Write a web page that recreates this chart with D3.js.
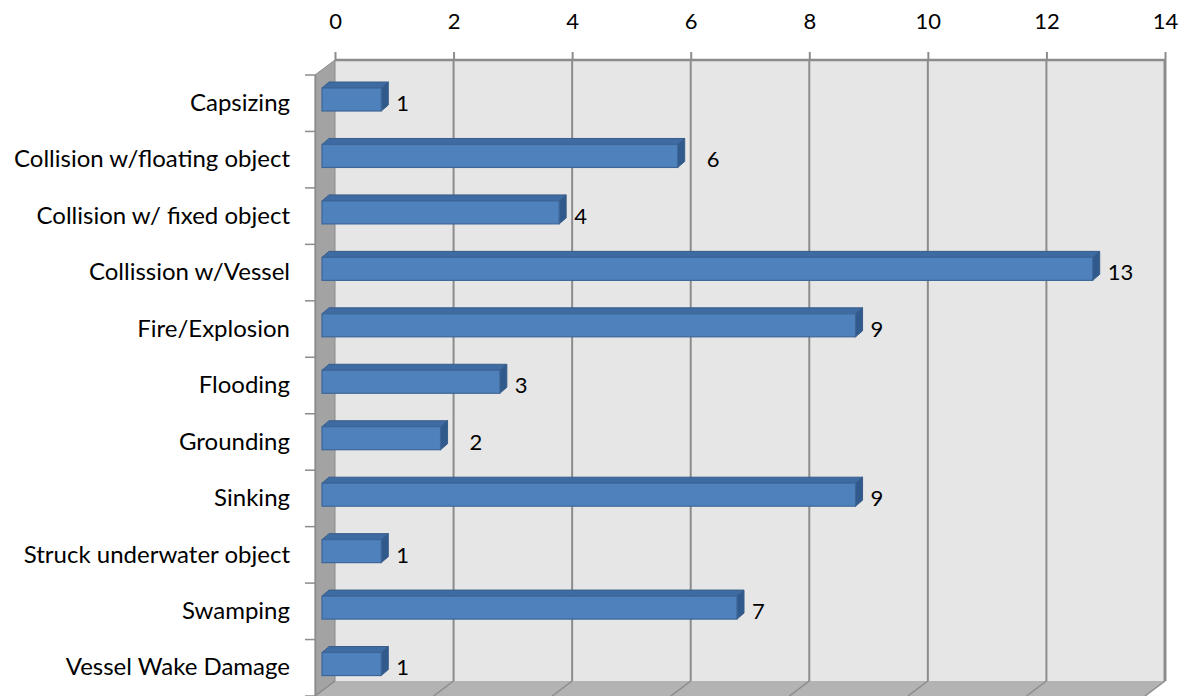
<!DOCTYPE html>
<html>
<head>
<meta charset="utf-8">
<script src="https://cdn.jsdelivr.net/npm/d3@7"></script>
<style>
  html, body { margin: 0; padding: 0; background: #fff; }
  svg { display: block; }
  text { font-family: Lato, "Open Sans", sans-serif; fill: #000; }
</style>
</head>
<body>
<svg id="chart" width="1187" height="696"></svg>
<script>
// Incident causes and their counts
const categories = [
  "Capsizing",
  "Collision w/floating object",
  "Collision w/ fixed object",
  "Collission w/Vessel",
  "Fire/Explosion",
  "Flooding",
  "Grounding",
  "Sinking",
  "Struck underwater object",
  "Swamping ",
  "Vessel Wake Damage"
];
const counts = [1, 6, 4, 13, 9, 3, 2, 9, 1, 7, 1];
const tickValues = [0, 2, 4, 6, 8, 10, 12, 14];

const svg = d3.select("#chart");
const FONT = "Lato, 'Open Sans', sans-serif";

// 3D frame geometry: back wall and the depth shift toward the viewer
const depthX = -20, depthY = 15;
const backTop = 60, backBottom = 681;

const x = d3.scaleLinear().domain([0, 14]).range([335, 1165]);
const y = d3.scaleBand().domain(categories)
  .range([backTop + depthY, backBottom + depthY]).paddingInner(0).paddingOuter(0);

const x0 = x(0), x1 = x(14);

// back wall
svg.append("rect")
  .attr("x", x0).attr("y", backTop)
  .attr("width", x1 - x0).attr("height", backBottom - backTop)
  .attr("fill", "#e6e6e6");

// floor
svg.append("polygon")
  .attr("points", [[x0, backBottom], [x1, backBottom], [x1 + depthX, backBottom + depthY], [x0 + depthX, backBottom + depthY]].join(" "))
  .attr("fill", "#b3b3b3");

// left side wall
svg.append("polygon")
  .attr("points", [[x0 + depthX, backTop + depthY], [x0, backTop], [x0, backBottom], [x0 + depthX, backBottom + depthY]].join(" "))
  .attr("fill", "#a3a3a3")
  .attr("stroke", "#8a8a8a").attr("stroke-width", 1);

// gridlines on the back wall and floor
const grid = svg.append("g");
tickValues.forEach(t => {
  const gx = x(t);
  if (t > 0) {
    grid.append("line")
      .attr("x1", gx).attr("x2", gx).attr("y1", backTop).attr("y2", backBottom)
      .attr("stroke", "#8c8c8c").attr("stroke-width", t === 14 ? 3 : 2);
  }
  grid.append("line")
    .attr("x1", gx).attr("x2", gx + depthX).attr("y1", backBottom).attr("y2", backBottom + depthY)
    .attr("stroke", "#8c8c8c").attr("stroke-width", 1.5);
});
grid.append("line")
  .attr("x1", x0).attr("x2", x1).attr("y1", backTop).attr("y2", backTop)
  .attr("stroke", "#8c8c8c").attr("stroke-width", 2.5);

// top value axis
const topAxis = d3.axisTop(x).tickValues(tickValues).tickSize(8).tickPadding(23);
const gTop = svg.append("g").attr("transform", `translate(0,${backTop})`).call(topAxis);
gTop.select(".domain").remove();
gTop.selectAll(".tick line").attr("stroke", "#8c8c8c").attr("stroke-width", 2);
gTop.selectAll(".tick text")
  .style("font-family", FONT)
  .attr("font-size", 22).attr("fill", "#000");

// left category axis on the front edge of the side wall
const leftAxis = d3.axisLeft(y).tickSize(0).tickPadding(25);
const gLeft = svg.append("g").attr("transform", `translate(${x0 + depthX},0)`).call(leftAxis);
gLeft.select(".domain").attr("stroke", "#8c8c8c").attr("stroke-width", 1.5);
gLeft.selectAll(".tick text")
  .style("font-family", FONT)
  .attr("font-size", 24).attr("fill", "#000");
const bounds = categories.map(c => y(c)).concat([y.range()[1]]);
gLeft.selectAll(".bound").data(bounds).join("line")
  .attr("class", "bound")
  .attr("x1", -10).attr("x2", 0)
  .attr("y1", d => d).attr("y2", d => d)
  .attr("stroke", "#8c8c8c").attr("stroke-width", 1.5);

// 3D bars: front face, top face and right side face
const barDX = 7, barDY = -6;
const barOffsetX = -13;
const barTop = 13, barH = 23;
// a couple of labels sit a little further out from their bars
const labelShift = { "Collision w/floating object": 14, "Grounding": 14 };

const bars = svg.append("g").selectAll("g").data(categories.map((c, i) => ({ c, v: counts[i] }))).join("g");

bars.each(function(d) {
  const g = d3.select(this);
  const left = x(0) + barOffsetX;
  const right = x(d.v) + barOffsetX;
  const top = y(d.c) + barTop;
  const bottom = top + barH;
  // top face
  g.append("polygon")
    .attr("points", [[left, top], [left + barDX, top + barDY], [right + barDX, top + barDY], [right, top]].join(" "))
    .attr("fill", "#3f6ba3").attr("stroke", "#385d8a").attr("stroke-width", 1);
  // side face
  g.append("polygon")
    .attr("points", [[right, top], [right + barDX, top + barDY], [right + barDX, bottom + barDY], [right, bottom]].join(" "))
    .attr("fill", "#305a8c").attr("stroke", "#385d8a").attr("stroke-width", 1);
  // front face
  g.append("rect")
    .attr("x", left).attr("y", top).attr("width", right - left).attr("height", barH)
    .attr("fill", "#4f81bd").attr("stroke", "#3d6698").attr("stroke-width", 1.2);
  // value label
  g.append("text")
    .attr("x", right + barDX + 8 + (labelShift[d.c] || 0))
    .attr("y", y(d.c) + y.bandwidth() / 2)
    .attr("dy", "0.35em").attr("font-size", 22)
    .text(d.v);
});
</script>
</body>
</html>
